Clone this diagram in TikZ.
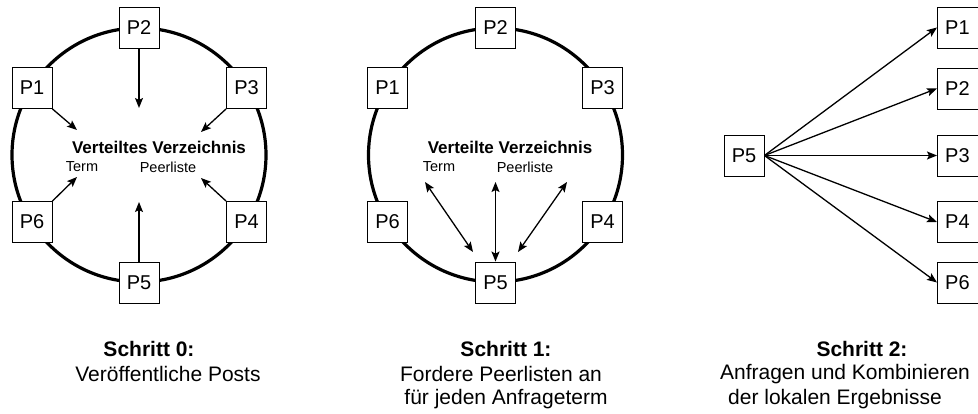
\documentclass[tikz,border=0pt]{standalone}
\usepackage{fontspec}
\setmainfont{Liberation Sans}
\usetikzlibrary{arrows.meta}
\begin{document}
\begin{tikzpicture}[x=1pt,y=-1pt,
  pbox/.style={draw, line width=0.9pt, fill=white, minimum width=40pt, minimum height=41pt, inner sep=0pt, font=\fontsize{20}{24}\selectfont},
  rbox/.style={pbox, minimum width=46pt, anchor=west, text width=40pt, align=center, execute at begin node={\hspace*{-6pt}}},
  ring/.style={line width=3.2pt},
  arr/.style={line width=1.3pt, -{Stealth[length=10pt,width=8pt,inset=2pt]}},
  darr/.style={line width=1.3pt, {Stealth[length=10pt,width=8pt,inset=2pt]}-{Stealth[length=10pt,width=8pt,inset=2pt]}},
  dirtitle/.style={inner sep=0pt, font=\bfseries\fontsize{17}{20}\selectfont},
  small/.style={inner sep=0pt, font=\fontsize{14.5}{17}\selectfont},
  capt/.style={inner sep=0pt, font=\fontsize{21}{25}\selectfont},
  captb/.style={inner sep=0pt, font=\bfseries\fontsize{21}{25}\selectfont}]
\useasboundingbox (0,0) rectangle (978,414);

% ---------- Diagram 1 ----------
\draw[ring] (139,155) circle[radius=127pt];
\node[pbox] (a2) at (139,27.5) {P2};
\node[pbox] (a1) at (32,88) {P1};
\node[pbox] (a3) at (246.5,88) {P3};
\node[pbox] (a6) at (32,222) {P6};
\node[pbox] (a4) at (246.5,222) {P4};
\node[pbox] (a5) at (139,282.5) {P5};
\node[dirtitle] (vv1) at (159,147) {Verteiltes Verzeichnis};
\node[small] (t1) at (82,167) {Term};
\node[small] (pl1) at (168,167) {Peerliste};
\coordinate (d2) at (139,108);
\coordinate (d1) at (77,130);
\coordinate (d3) at (201,132);
\coordinate (d6) at (77,177);
\coordinate (d4) at (201,178);
\coordinate (d5) at (139,202);
\draw[arr] (a2.south) -- (d2);
\draw[arr] (a1.south east) -- (d1);
\draw[arr] (a3.south west) -- (d3);
\draw[arr] (a6.north east) -- (d6);
\draw[arr] (a4.north west) -- (d4);
\draw[arr] (a5.north) -- (d5);

% ---------- Diagram 2 ----------
\draw[ring] (495.5,155) circle[radius=127pt];
\node[pbox] (b2) at (495.5,27.5) {P2};
\node[pbox] (b1) at (387.5,88) {P1};
\node[pbox] (b3) at (602.5,88) {P3};
\node[pbox] (b6) at (387.5,222) {P6};
\node[pbox] (b4) at (602.5,222) {P4};
\node[pbox] (b5) at (495.5,282.5) {P5};
\node[dirtitle] (vv2) at (510,147) {Verteilte Verzeichnis};
\node[small] (t2) at (439,167) {Term};
\node[small] (pl2) at (525,167) {Peerliste};
\coordinate (e1) at (425,182);
\coordinate (e2) at (495.5,182);
\coordinate (e3) at (567,182);
\coordinate (e4) at (473,252);
\coordinate (e5) at (518,252);
\draw[darr] (e1) -- (e4);
\draw[darr] (e2) -- (b5.north);
\draw[darr] (e3) -- (e5);

% ---------- Diagram 3 ----------
\node[pbox] (c5) at (744,155.5) {P5};
\node[rbox] (r1) at (937,27.5) {P1};
\node[rbox] (r2) at (937,88.5) {P2};
\node[rbox] (r3) at (937,155.5) {P3};
\node[rbox] (r4) at (937,222) {P4};
\node[rbox] (r6) at (937,282.5) {P6};
\foreach \t in {r1,r2,r3,r4,r6} \draw[arr] (c5.east) -- (\t.west);

% ---------- Captions ----------
\node[captb] (s0) at (149,349) {Schritt 0:};
\node[capt] (s0b) at (168,374) {Veröffentliche Posts};
\node[captb] (s1) at (506,349) {Schritt 1:};
\node[capt] (s1b) at (501,374) {Fordere Peerlisten an};
\node[capt] (s1c) at (506,399) {für jeden Anfrageterm};
\node[captb] (s2) at (862,349) {Schritt 2:};
\node[capt] (s2b) at (845,374) {Anfragen und Kombinieren};
\node[capt] (s2c) at (835,399) {der lokalen Ergebnisse};
\end{tikzpicture}
\end{document}
